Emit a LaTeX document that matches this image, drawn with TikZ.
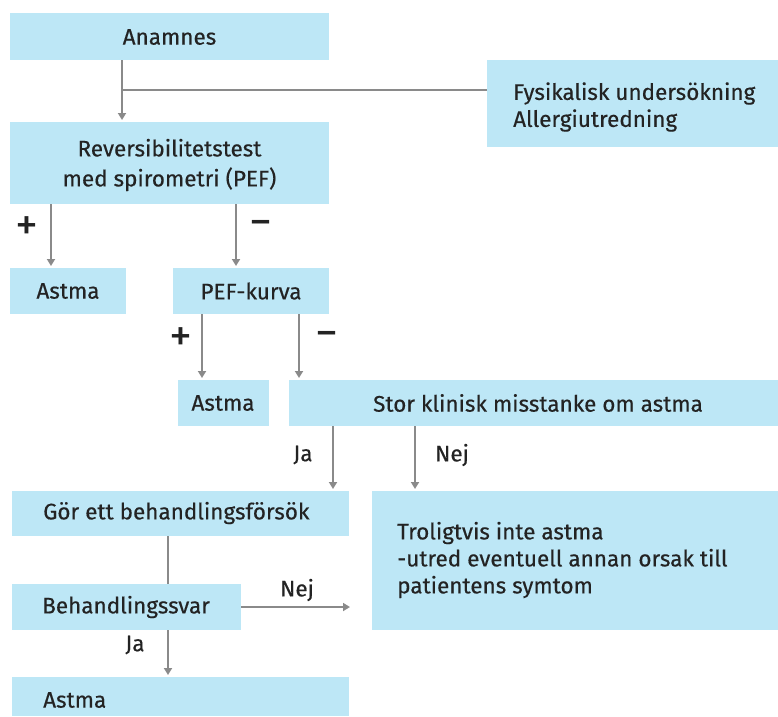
\documentclass[tikz,border=0pt]{standalone}
\usepackage{fontspec}
\setmainfont{Fira Sans}[FakeBold=0.4]
\newfontfamily\signfont{Fira Sans}
\usetikzlibrary{arrows.meta}
\definecolor{boxblue}{RGB}{189,231,246}
\definecolor{arrgray}{RGB}{138,138,138}
\definecolor{txt}{RGB}{35,35,35}
\begin{document}
\begin{tikzpicture}[x=1pt,y=-1pt,
  box/.style={fill=boxblue, draw=none, inner sep=0pt, outer sep=0pt, anchor=north west},
  lbl/.style={inner sep=0pt, text=txt, font=\fontsize{22.5}{28}\selectfont},
  sgn/.style={inner sep=0pt, text=txt, font=\signfont\fontsize{46}{46}\selectfont},
  conn/.style={draw=arrgray, line width=2pt},
  arr/.style={conn, -{Triangle[width=8pt,length=7pt]}, shorten >=2pt}
]
\useasboundingbox (0,0) rectangle (778,716);
% boxes
\node[box, minimum width=319pt, minimum height=47pt] (ana) at (10,13) {};
\node[box, minimum width=291pt, minimum height=87pt] (fys) at (487,60) {};
\node[box, minimum width=319pt, minimum height=82pt] (rev) at (10,122) {};
\node[box, minimum width=116pt, minimum height=46pt] (ast1) at (10,268) {};
\node[box, minimum width=156pt, minimum height=46pt] (pef) at (173,268) {};
\node[box, minimum width=91pt, minimum height=46pt] (ast2) at (178,380) {};
\node[box, minimum width=489pt, minimum height=46pt] (stor) at (289,380) {};
\node[box, minimum width=337pt, minimum height=45pt] (gor) at (12,491) {};
\node[box, minimum width=406pt, minimum height=139pt] (trol) at (372,491) {};
\node[box, minimum width=229pt, minimum height=46pt] (beh) at (12,584) {};
\node[box, minimum width=337pt, minimum height=39pt] (ast3) at (12,677) {};
% texts
\node[lbl] (tana) at (169.5,37) {Anamnes};
\node[lbl, align=center, font=\fontsize{22.5}{30}\selectfont] (trev) at (169.5,165) {Reversibilitetstest\\med spirometri (PEF)};
\node[lbl] (tast1) at (68,291) {Astma};
\node[lbl] (tpef) at (251,291) {PEF-kurva};
\node[lbl] (tast2) at (223,403) {Astma};
\node[lbl] (tstor) at (538,403) {Stor klinisk misstanke om astma};
\node[lbl, anchor=west, align=left, font=\fontsize{22.5}{27}\selectfont] (tfys) at (513,107) {Fysikalisk undersökning\\Allergiutredning};
\node[lbl, anchor=west] (tgor) at (43,513) {Gör ett behandlingsförsök};
\node[lbl, anchor=west] (tbeh) at (42,607) {Behandlingssvar};
\node[lbl, anchor=west] (tast3) at (43,700) {Astma};
\node[lbl, anchor=west, align=left, font=\fontsize{22.5}{27}\selectfont] (ttrol) at (397,560) {Troligtvis inte astma\\-utred eventuell annan orsak till\\patientens symtom};
% connector labels
\node[sgn] (p1) at (27,229) {+};
\node[sgn] (m1) at (261,229) {−};
\node[sgn] (p2) at (181,340) {+};
\node[sgn] (m2) at (327,340) {−};
\node[lbl] (ja1) at (303,455) {Ja};
\node[lbl] (nej1) at (452,455) {Nej};
\node[lbl] (nej2) at (297,590) {Nej};
\node[lbl] (ja2) at (135,645) {Ja};
% connectors
\coordinate (j1) at (122,90);
\draw[arr] (ana.south -| j1) -- (rev.north -| j1);
\draw[conn] (j1) -- (j1 -| fys.west);
\coordinate (c1) at (51,0);
\coordinate (c2) at (236,0);
\coordinate (c3) at (202,0);
\coordinate (c4) at (299,0);
\coordinate (c5) at (333,0);
\coordinate (c6) at (415,0);
\coordinate (c7) at (168,0);
\coordinate (c8) at (0,607);
\draw[arr] (rev.south -| c1) -- (ast1.north -| c1);
\draw[arr] (rev.south -| c2) -- (pef.north -| c2);
\draw[arr] (pef.south -| c3) -- (ast2.north -| c3);
\draw[arr] (pef.south -| c4) -- (stor.north -| c4);
\draw[arr] (stor.south -| c5) -- (gor.north -| c5);
\draw[arr] (stor.south -| c6) -- (trol.north -| c6);
\draw[conn] (gor.south -| c7) -- (beh.north -| c7);
\draw[arr, shorten >=22pt] (beh.east |- c8) -- (trol.west |- c8);
\draw[arr] (beh.south -| c7) -- (ast3.north -| c7);
\end{tikzpicture}
\end{document}
